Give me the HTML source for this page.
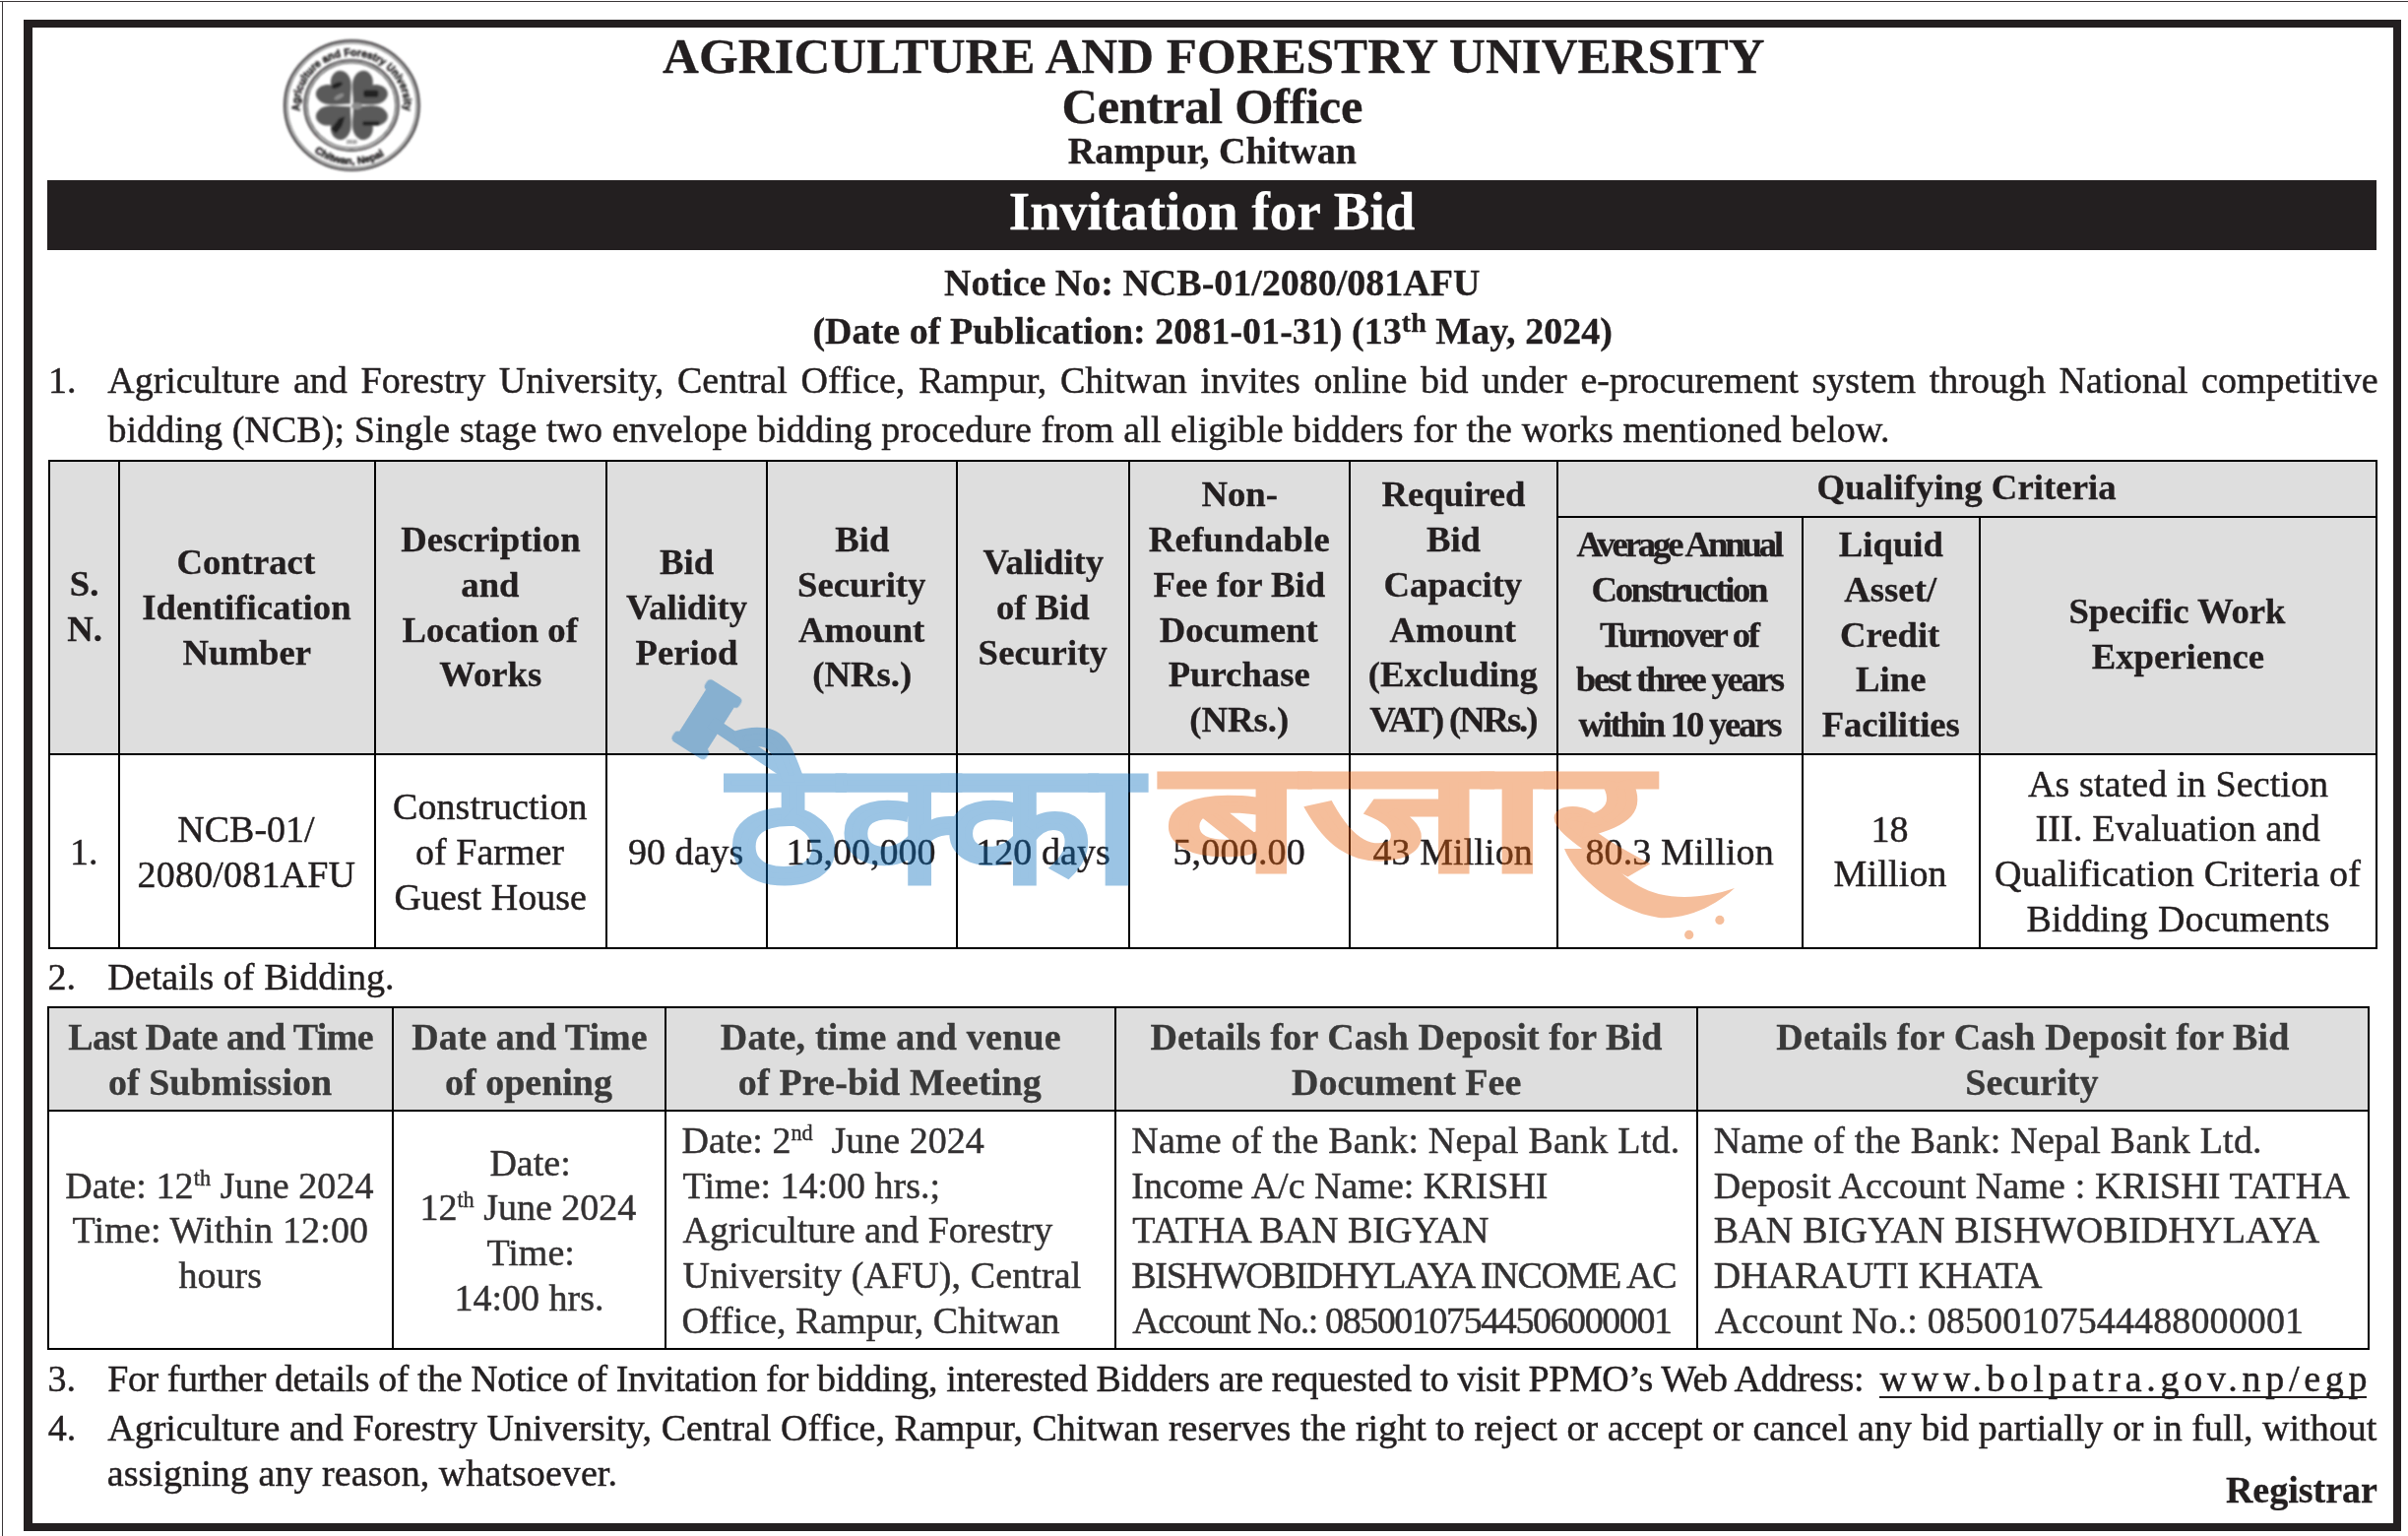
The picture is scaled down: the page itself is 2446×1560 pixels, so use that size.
<!DOCTYPE html>
<html lang="en">
<head>
<meta charset="utf-8">
<title>Invitation for Bid - Agriculture and Forestry University</title>
<style>
html,body{margin:0;padding:0;background:#fff}
body{width:2446px;height:1560px;position:relative;overflow:hidden;font-family:"Liberation Serif","Times New Roman",Times,serif;color:#231f20}
.ln{position:absolute;background:#231f20}
.tl{position:absolute;background:#000}
.fill{position:absolute;background:#dedede}
#txt text{white-space:pre}
</style>
</head>
<body>
<div class="ln" style="left:0px;top:1px;width:2446px;height:1px;background:#3a3637"></div>
<div class="ln" style="left:2px;top:1px;width:1px;height:1559px;background:#3a3637"></div>
<div style="position:absolute;left:24px;top:20px;width:2415px;height:1535px;box-sizing:border-box;border:8px solid #231f20;border-left-width:9px"></div>
<div class="ln" style="left:48px;top:183px;width:2366px;height:71px;"></div>
<svg style="position:absolute;left:277px;top:27px" width="160" height="160" viewBox="277 27 160 160" role="img" aria-label="Agriculture and Forestry University seal">
<defs>
<filter id="sb" x="-20%" y="-20%" width="140%" height="140%"><feGaussianBlur stdDeviation="1.1"/></filter>
<filter id="sb2" x="-20%" y="-20%" width="140%" height="140%"><feGaussianBlur stdDeviation="0.85"/></filter>
<path id="arcTop" d="M 304.6,112.9 A 53,53 0 1 1 410.2,111.8" fill="none"/>
<path id="arcBot" d="M 319.2,156.0 A 62,62 0 0 0 396.0,155.6" fill="none"/>
</defs>
<g transform="translate(357.4,107.2) scale(1,0.963) translate(-357.4,-107.2)">
<g filter="url(#sb2)" fill="none" stroke="#2b2829">
<circle cx="357.4" cy="107.1" r="68.3" stroke-width="2.0"/>
<circle cx="357.4" cy="107.1" r="65.7" stroke-width="1.1" stroke="#555"/>
<circle cx="357.0" cy="107.0" r="47.7" stroke-width="1.8"/>
<circle cx="357.0" cy="107.0" r="45.0" stroke-width="1.2" stroke="#444"/>
</g>
<g filter="url(#sb)" transform="translate(357.4,106.8)">
<g fill="#5a5a5a">
<path d="M0,-2 C-7,-10 -20,-16 -20,-27.5 C-20,-38 -7,-40 0,-30 C7,-40 20,-38 20,-27.5 C20,-16 7,-10 0,-2 Z" transform="rotate(-45)"/>
<path d="M0,-2 C-7,-10 -20,-16 -20,-27.5 C-20,-38 -7,-40 0,-30 C7,-40 20,-38 20,-27.5 C20,-16 7,-10 0,-2 Z" transform="rotate(45)"/>
<path d="M0,-2 C-7,-10 -20,-16 -20,-27.5 C-20,-38 -7,-40 0,-30 C7,-40 20,-38 20,-27.5 C20,-16 7,-10 0,-2 Z" transform="rotate(135)"/>
<path d="M0,-2 C-7,-10 -20,-16 -20,-27.5 C-20,-38 -7,-40 0,-30 C7,-40 20,-38 20,-27.5 C20,-16 7,-10 0,-2 Z" transform="rotate(-135)"/>
</g>
<g fill="#242424">
<ellipse cx="-15" cy="-21" rx="6" ry="2.8" transform="rotate(-25 -15 -21)"/>
<rect x="12" y="-16" width="15" height="7.5" rx="2"/>
<path d="M-7,12 L-13,14 L-21,25 L-16,30 L-10,22 Z"/>
<rect x="11" y="17" width="17" height="4.6" rx="1.5"/>
</g>
<g fill="#8c8c8c">
<ellipse cx="5" cy="1" rx="5.5" ry="3.6"/>
<ellipse cx="-13" cy="-9" rx="5.5" ry="2.3" transform="rotate(-30 -13 -9)"/>
</g>
</g>
<g filter="url(#sb2)" font-family="'Liberation Sans',Arial,sans-serif" font-weight="bold" fill="#1f1c1d" stroke="#1f1c1d" stroke-width="0.55">
<text font-size="11.2"><textPath href="#arcTop" textLength="176" lengthAdjust="spacingAndGlyphs">Agriculture and Forestry University</textPath></text>
<text font-size="10.6"><textPath href="#arcBot" textLength="76" lengthAdjust="spacingAndGlyphs">Chitwan, Nepal</textPath></text>
<text x="357.4" y="147.6" font-size="4.8" text-anchor="middle" fill="#444" stroke="none">2010</text>
</g>
</g>
</svg>

<div class="fill" style="left:49px;top:467px;width:2366px;height:300px;"></div>
<div class="tl" style="left:49px;top:467px;width:2366px;height:2px;"></div>
<div class="tl" style="left:49px;top:765px;width:2366px;height:2px;"></div>
<div class="tl" style="left:49px;top:962px;width:2366px;height:2px;"></div>
<div class="tl" style="left:1581px;top:524px;width:834px;height:2px;"></div>
<div class="tl" style="left:49px;top:467px;width:2px;height:497px;"></div>
<div class="tl" style="left:120px;top:467px;width:2px;height:497px;"></div>
<div class="tl" style="left:380px;top:467px;width:2px;height:497px;"></div>
<div class="tl" style="left:615px;top:467px;width:2px;height:497px;"></div>
<div class="tl" style="left:778px;top:467px;width:2px;height:497px;"></div>
<div class="tl" style="left:971px;top:467px;width:2px;height:497px;"></div>
<div class="tl" style="left:1146px;top:467px;width:2px;height:497px;"></div>
<div class="tl" style="left:1370px;top:467px;width:2px;height:497px;"></div>
<div class="tl" style="left:1581px;top:467px;width:2px;height:497px;"></div>
<div class="tl" style="left:1830px;top:524px;width:2px;height:440px;"></div>
<div class="tl" style="left:2010px;top:524px;width:2px;height:440px;"></div>
<div class="tl" style="left:2413px;top:467px;width:2px;height:497px;"></div>
<div class="fill" style="left:48px;top:1022px;width:2359px;height:107px;"></div>
<div class="tl" style="left:48px;top:1022px;width:2359px;height:2px;"></div>
<div class="tl" style="left:48px;top:1127px;width:2359px;height:2px;"></div>
<div class="tl" style="left:48px;top:1369px;width:2359px;height:2px;"></div>
<div class="tl" style="left:48px;top:1022px;width:2px;height:349px;"></div>
<div class="tl" style="left:398px;top:1022px;width:2px;height:349px;"></div>
<div class="tl" style="left:675px;top:1022px;width:2px;height:349px;"></div>
<div class="tl" style="left:1132px;top:1022px;width:2px;height:349px;"></div>
<div class="tl" style="left:1723px;top:1022px;width:2px;height:349px;"></div>
<div class="tl" style="left:2405px;top:1022px;width:2px;height:349px;"></div>
<div class="ln" style="left:1909px;top:1418px;width:495px;height:2px;"></div>
<svg id="txt" width="2446" height="1560" viewBox="0 0 2446 1560" style="position:absolute;left:0;top:0;opacity:0.999;white-space:pre" font-family="'Liberation Serif','Times New Roman',Times,serif" fill="#231f20" stroke="#231f20" stroke-width="0.45" stroke-linejoin="round">
<g class="heading-b" font-weight="bold" stroke-width="0.3">
<text x="673.1" y="74.4" font-size="51" textLength="1119.6" lengthAdjust="spacing">AGRICULTURE AND FORESTRY UNIVERSITY</text>
<text x="1078.5" y="125.4" font-size="50.5" textLength="305.9" lengthAdjust="spacing">Central Office</text>
<text x="1084.8" y="165.8" font-size="38" textLength="293.1" lengthAdjust="spacing">Rampur, Chitwan</text>
<text x="1024.7" y="233.0" font-size="55" textLength="412.7" lengthAdjust="spacing" fill="#fff" stroke="#fff">Invitation for Bid</text>
<text x="959.0" y="299.8" font-size="38" textLength="544.4" lengthAdjust="spacing">Notice No: NCB-01/2080/081AFU</text>
<text x="825.4" y="349.0" font-size="38" textLength="812.5" lengthAdjust="spacing">(Date of Publication: 2081-01-31) (13<tspan font-size="27.93" dy="-11.73">th</tspan><tspan dy="11.73"> May, 2024)</tspan></text>
</g>
<g class="para1">
<text x="48.9" y="399.4" font-size="38" textLength="28.5" lengthAdjust="spacing">1.</text>
<text x="109.2" y="399.4" font-size="38" textLength="2306.3" lengthAdjust="spacing" word-spacing="4.145">Agriculture and Forestry University, Central Office, Rampur, Chitwan invites online bid under e-procurement system through National competitive</text>
<text x="109.4" y="449.2" font-size="38" textLength="1810.1" lengthAdjust="spacing">bidding (NCB); Single stage two envelope bidding procedure from all eligible bidders for the works mentioned below.</text>
</g>
<g class="t1-head-b" font-weight="bold" stroke-width="0.3">
<text x="70.8" y="605.3" font-size="36.7" textLength="29.6" lengthAdjust="spacing">S.</text>
<text x="68.2" y="651.2" font-size="36.7" textLength="35.7" lengthAdjust="spacing">N.</text>
<text x="179.5" y="582.7" font-size="36.7" textLength="140.6" lengthAdjust="spacing">Contract</text>
<text x="144.2" y="628.6" font-size="36.7" textLength="212.4" lengthAdjust="spacing">Identification</text>
<text x="185.6" y="674.6" font-size="36.7" textLength="130.4" lengthAdjust="spacing">Number</text>
<text x="407.2" y="559.7" font-size="36.7" textLength="182.4" lengthAdjust="spacing">Description</text>
<text x="468.3" y="605.6" font-size="36.7" textLength="59.2" lengthAdjust="spacing">and</text>
<text x="408.6" y="651.5" font-size="36.7" textLength="178.3" lengthAdjust="spacing">Location of</text>
<text x="446.3" y="697.4" font-size="36.7" textLength="104.0" lengthAdjust="spacing">Works</text>
<text x="670.0" y="582.7" font-size="36.7" textLength="55.1" lengthAdjust="spacing">Bid</text>
<text x="636.0" y="628.6" font-size="36.7" textLength="123.0" lengthAdjust="spacing">Validity</text>
<text x="645.5" y="674.6" font-size="36.7" textLength="103.9" lengthAdjust="spacing">Period</text>
<text x="848.2" y="559.7" font-size="36.7" textLength="55.1" lengthAdjust="spacing">Bid</text>
<text x="810.0" y="605.6" font-size="36.7" textLength="130.4" lengthAdjust="spacing">Security</text>
<text x="810.9" y="651.5" font-size="36.7" textLength="128.4" lengthAdjust="spacing">Amount</text>
<text x="825.2" y="697.4" font-size="36.7" textLength="100.9" lengthAdjust="spacing">(NRs.)</text>
<text x="998.5" y="582.7" font-size="36.7" textLength="122.5" lengthAdjust="spacing">Validity</text>
<text x="1011.9" y="628.6" font-size="36.7" textLength="94.8" lengthAdjust="spacing">of Bid</text>
<text x="993.6" y="674.6" font-size="36.7" textLength="131.3" lengthAdjust="spacing">Security</text>
<text x="1220.5" y="513.8" font-size="36.7" textLength="77.5" lengthAdjust="spacing">Non-</text>
<text x="1166.8" y="559.7" font-size="36.7" textLength="183.9" lengthAdjust="spacing">Refundable</text>
<text x="1171.5" y="605.6" font-size="36.7" textLength="174.6" lengthAdjust="spacing">Fee for Bid</text>
<text x="1177.7" y="651.5" font-size="36.7" textLength="161.0" lengthAdjust="spacing">Document</text>
<text x="1186.7" y="697.4" font-size="36.7" textLength="144.0" lengthAdjust="spacing">Purchase</text>
<text x="1208.3" y="743.3" font-size="36.7" textLength="100.9" lengthAdjust="spacing">(NRs.)</text>
<text x="1403.4" y="513.8" font-size="36.7" textLength="146.1" lengthAdjust="spacing">Required</text>
<text x="1448.9" y="559.7" font-size="36.7" textLength="55.1" lengthAdjust="spacing">Bid</text>
<text x="1405.6" y="605.6" font-size="36.7" textLength="140.6" lengthAdjust="spacing">Capacity</text>
<text x="1411.6" y="651.5" font-size="36.7" textLength="128.4" lengthAdjust="spacing">Amount</text>
<text x="1389.8" y="697.4" font-size="36.7" textLength="172.1" lengthAdjust="spacing">(Excluding</text>
<text x="1391.2" y="743.3" font-size="36.7" textLength="171.2" lengthAdjust="spacing">VAT) (NRs.)</text>
<text x="1845.6" y="507.0" font-size="36.7" textLength="304.1" lengthAdjust="spacing">Qualifying Criteria</text>
<text x="1601.6" y="565.2" font-size="36.7" textLength="210.6" lengthAdjust="spacing">Average Annual</text>
<text x="1616.5" y="610.9" font-size="36.7" textLength="179.9" lengthAdjust="spacing">Construction</text>
<text x="1624.9" y="656.6" font-size="36.7" textLength="163.0" lengthAdjust="spacing">Turnover of</text>
<text x="1600.8" y="702.3" font-size="36.7" textLength="212.3" lengthAdjust="spacing">best three years</text>
<text x="1603.4" y="748.0" font-size="36.7" textLength="207.1" lengthAdjust="spacing">within 10 years</text>
<text x="1867.8" y="565.2" font-size="36.7" textLength="106.1" lengthAdjust="spacing">Liquid</text>
<text x="1873.3" y="610.9" font-size="36.7" textLength="93.8" lengthAdjust="spacing">Asset/</text>
<text x="1869.1" y="656.6" font-size="36.7" textLength="101.2" lengthAdjust="spacing">Credit</text>
<text x="1885.1" y="702.3" font-size="36.7" textLength="71.4" lengthAdjust="spacing">Line</text>
<text x="1850.7" y="748.0" font-size="36.7" textLength="140.1" lengthAdjust="spacing">Facilities</text>
<text x="2101.5" y="633.2" font-size="36.7" textLength="220.0" lengthAdjust="spacing">Specific Work</text>
<text x="2124.8" y="679.2" font-size="36.7" textLength="175.2" lengthAdjust="spacing">Experience</text>
</g>
<g class="t1-body">
<text x="71.0" y="878.0" font-size="38" textLength="28.5" lengthAdjust="spacing">1.</text>
<text x="180.2" y="855.3" font-size="38" textLength="139.4" lengthAdjust="spacing">NCB-01/</text>
<text x="139.6" y="901.1" font-size="38" textLength="221.4" lengthAdjust="spacing">2080/081AFU</text>
<text x="398.9" y="831.8" font-size="38" textLength="197.7" lengthAdjust="spacing">Construction</text>
<text x="422.1" y="877.8" font-size="38" textLength="150.9" lengthAdjust="spacing">of Farmer</text>
<text x="400.5" y="923.8" font-size="38" textLength="195.3" lengthAdjust="spacing">Guest House</text>
<text x="638.0" y="878.0" font-size="38" textLength="117.4" lengthAdjust="spacing">90 days</text>
<text x="798.5" y="878.0" font-size="38" textLength="152.0" lengthAdjust="spacing">15,00,000</text>
<text x="991.2" y="878.0" font-size="38" textLength="136.6" lengthAdjust="spacing">120 days</text>
<text x="1191.4" y="878.0" font-size="38" textLength="134.4" lengthAdjust="spacing">5,000.00</text>
<text x="1394.5" y="878.0" font-size="38" textLength="162.2" lengthAdjust="spacing">43 Million</text>
<text x="1610.5" y="878.0" font-size="38" textLength="191.2" lengthAdjust="spacing">80.3 Million</text>
<text x="1900.6" y="855.4" font-size="38" textLength="38.0" lengthAdjust="spacing">18</text>
<text x="1862.6" y="900.3" font-size="38" textLength="115.0" lengthAdjust="spacing">Million</text>
<text x="2060.0" y="808.7" font-size="38" textLength="305.1" lengthAdjust="spacing">As stated in Section</text>
<text x="2067.4" y="854.3" font-size="38" textLength="289.4" lengthAdjust="spacing">III. Evaluation and</text>
<text x="2026.1" y="899.9" font-size="38" textLength="371.7" lengthAdjust="spacing">Qualification Criteria of</text>
<text x="2058.4" y="945.5" font-size="38" textLength="308.2" lengthAdjust="spacing">Bidding Documents</text>
</g>
<g class="para2">
<text x="48.4" y="1005.4" font-size="38" textLength="28.5" lengthAdjust="spacing">2.</text>
<text x="109.2" y="1005.4" font-size="38" textLength="291.3" lengthAdjust="spacing">Details of Bidding.</text>
</g>
<g class="t2-head-b" font-weight="bold" stroke-width="0.3">
<text x="69.3" y="1065.8" font-size="38" textLength="310.3" lengthAdjust="spacing" fill="#3a3a3a" stroke="#3a3a3a">Last Date and Time</text>
<text x="110.0" y="1111.9" font-size="38" textLength="227.1" lengthAdjust="spacing" fill="#3a3a3a" stroke="#3a3a3a">of Submission</text>
<text x="418.3" y="1065.8" font-size="38" textLength="239.3" lengthAdjust="spacing" fill="#3a3a3a" stroke="#3a3a3a">Date and Time</text>
<text x="452.0" y="1111.9" font-size="38" textLength="170.0" lengthAdjust="spacing" fill="#3a3a3a" stroke="#3a3a3a">of opening</text>
<text x="731.8" y="1065.8" font-size="38" textLength="345.9" lengthAdjust="spacing" fill="#3a3a3a" stroke="#3a3a3a">Date, time and venue</text>
<text x="749.8" y="1111.9" font-size="38" textLength="308.0" lengthAdjust="spacing" fill="#3a3a3a" stroke="#3a3a3a">of Pre-bid Meeting</text>
<text x="1168.4" y="1065.8" font-size="38" textLength="519.9" lengthAdjust="spacing" fill="#3a3a3a" stroke="#3a3a3a">Details for Cash Deposit for Bid</text>
<text x="1312.1" y="1111.9" font-size="38" textLength="233.2" lengthAdjust="spacing" fill="#3a3a3a" stroke="#3a3a3a">Document Fee</text>
<text x="1804.3" y="1065.8" font-size="38" textLength="521.1" lengthAdjust="spacing" fill="#3a3a3a" stroke="#3a3a3a">Details for Cash Deposit for Bid</text>
<text x="1996.3" y="1111.9" font-size="38" textLength="135.1" lengthAdjust="spacing" fill="#3a3a3a" stroke="#3a3a3a">Security</text>
</g>
<g class="t2-body">
<text x="66.2" y="1216.6" font-size="38" textLength="313.3" lengthAdjust="spacing" fill="#333132" stroke="#333132">Date: 12<tspan font-size="22.15" dy="-13.07">th</tspan><tspan dy="13.07"> June 2024</tspan></text>
<text x="73.6" y="1262.4" font-size="38" textLength="300.4" lengthAdjust="spacing" fill="#333132" stroke="#333132">Time: Within 12:00</text>
<text x="181.5" y="1308.2" font-size="38" textLength="84.5" lengthAdjust="spacing" fill="#333132" stroke="#333132">hours</text>
<text x="497.4" y="1193.5" font-size="38" textLength="82.3" lengthAdjust="spacing" fill="#333132" stroke="#333132">Date:</text>
<text x="426.4" y="1239.3" font-size="38" textLength="219.9" lengthAdjust="spacing" fill="#333132" stroke="#333132">12<tspan font-size="22.15" dy="-13.07">th</tspan><tspan dy="13.07"> June 2024</tspan></text>
<text x="494.4" y="1285.1" font-size="38" textLength="89.4" lengthAdjust="spacing" fill="#333132" stroke="#333132">Time:</text>
<text x="461.5" y="1331.0" font-size="38" textLength="152.0" lengthAdjust="spacing" fill="#333132" stroke="#333132">14:00 hrs.</text>
<text x="692.6" y="1170.8" font-size="38" textLength="307.1" lengthAdjust="spacing" fill="#333132" stroke="#333132">Date: 2<tspan font-size="22.15" dy="-13.07">nd</tspan><tspan dy="13.07">  June 2024</tspan></text>
<text x="693.6" y="1216.6" font-size="38" textLength="261.5" lengthAdjust="spacing" fill="#333132" stroke="#333132">Time: 14:00 hrs.;</text>
<text x="693.6" y="1262.4" font-size="38" textLength="375.7" lengthAdjust="spacing" fill="#333132" stroke="#333132">Agriculture and Forestry</text>
<text x="693.6" y="1308.2" font-size="38" textLength="404.6" lengthAdjust="spacing" fill="#333132" stroke="#333132">University (AFU), Central</text>
<text x="692.6" y="1354.0" font-size="38" textLength="384.0" lengthAdjust="spacing" fill="#333132" stroke="#333132">Office, Rampur, Chitwan</text>
<text x="1149.3" y="1170.8" font-size="38" textLength="556.9" lengthAdjust="spacing" fill="#333132" stroke="#333132">Name of the Bank: Nepal Bank Ltd.</text>
<text x="1149.3" y="1216.6" font-size="38" textLength="423.2" lengthAdjust="spacing" fill="#333132" stroke="#333132">Income A/c Name: KRISHI</text>
<text x="1150.3" y="1262.4" font-size="38" textLength="362.2" lengthAdjust="spacing" fill="#333132" stroke="#333132">TATHA BAN BIGYAN</text>
<text x="1149.3" y="1308.2" font-size="38" textLength="554.3" lengthAdjust="spacing" fill="#333132" stroke="#333132">BISHWOBIDHYLAYA INCOME AC</text>
<text x="1150.3" y="1354.0" font-size="38" textLength="548.7" lengthAdjust="spacing" fill="#333132" stroke="#333132">Account No.: 08500107544506000001</text>
<text x="1740.7" y="1170.8" font-size="38" textLength="556.9" lengthAdjust="spacing" fill="#333132" stroke="#333132">Name of the Bank: Nepal Bank Ltd.</text>
<text x="1740.7" y="1216.6" font-size="38" textLength="646.0" lengthAdjust="spacing" fill="#333132" stroke="#333132">Deposit Account Name : KRISHI TATHA</text>
<text x="1740.7" y="1262.4" font-size="38" textLength="615.4" lengthAdjust="spacing" fill="#333132" stroke="#333132">BAN BIGYAN BISHWOBIDHYLAYA</text>
<text x="1740.7" y="1308.2" font-size="38" textLength="333.7" lengthAdjust="spacing" fill="#333132" stroke="#333132">DHARAUTI KHATA</text>
<text x="1741.7" y="1354.0" font-size="38" textLength="598.4" lengthAdjust="spacing" fill="#333132" stroke="#333132">Account No.: 08500107544488000001</text>
</g>
<g class="para34">
<text x="48.4" y="1412.6" font-size="38" textLength="28.5" lengthAdjust="spacing">3.</text>
<text x="109.2" y="1412.6" font-size="38" textLength="1784.3" lengthAdjust="spacing">For further details of the Notice of Invitation for bidding, interested Bidders are requested to visit PPMO’s Web Address:</text>
<text x="1909.5" y="1412.6" font-size="38" textLength="495.1" lengthAdjust="spacing">www.bolpatra.gov.np/egp</text>
<text x="48.7" y="1462.6" font-size="38" textLength="28.5" lengthAdjust="spacing">4.</text>
<text x="109.2" y="1462.6" font-size="38" textLength="2305.0" lengthAdjust="spacing" word-spacing="0.080">Agriculture and Forestry University, Central Office, Rampur, Chitwan reserves the right to reject or accept or cancel any bid partially or in full, without</text>
<text x="108.7" y="1509.4" font-size="38" textLength="518.3" lengthAdjust="spacing">assigning any reason, whatsoever.</text>
</g>
<g class="para34-b" font-weight="bold" stroke-width="0.3">
<text x="2260.9" y="1525.6" font-size="38" textLength="154.0" lengthAdjust="spacing">Registrar</text>
</g>
</svg>
<svg style="position:absolute;left:660px;top:680px;pointer-events:none" width="1130" height="290" viewBox="660 680 1130 290" role="img" aria-label="ठेक्का बजार watermark">
<g opacity="0.4">
<g fill="#056bbb">
<g transform="translate(717.9,730.7) rotate(-57.6)">
<rect x="-27" y="-17" width="54" height="34" rx="3"/>
<rect x="-37" y="-20.5" width="12" height="41" rx="4.5"/>
<rect x="25" y="-20.5" width="12" height="41" rx="4.5"/>
</g>
<path d="M722,733.5 L815,795.5" stroke="#056bbb" stroke-width="12.5" stroke-linecap="butt" fill="none"/>
</g>
<text x="739" y="895.5" font-family="'Liberation Sans','Noto Sans Devanagari','Mukta','Ek Mukta','Hind','Lohit Devanagari',sans-serif" font-weight="400" font-size="172" fill="#056bbb" stroke="#056bbb" stroke-width="7" stroke-linejoin="miter" textLength="421" lengthAdjust="spacingAndGlyphs">ठेक्का</text>
<text x="1181" y="883.5" font-family="'Liberation Sans','Noto Sans Devanagari','Mukta','Ek Mukta','Hind','Lohit Devanagari',sans-serif" font-weight="400" font-size="156" fill="#e65c05" stroke="#e65c05" stroke-width="7" stroke-linejoin="miter" textLength="495" lengthAdjust="spacingAndGlyphs">बजार</text>
<g fill="#e65c05">
<path d="M1589,862 C1600,890 1640,925 1685,932 C1715,934 1745,918 1762,902 C1740,910 1710,914 1685,908 C1655,900 1640,880 1625,862 Z"/>
<circle cx="1715.7" cy="949.4" r="4.6"/>
<circle cx="1746.9" cy="934.4" r="4.6"/>
</g>
</g>
</svg>

</body>
</html>
